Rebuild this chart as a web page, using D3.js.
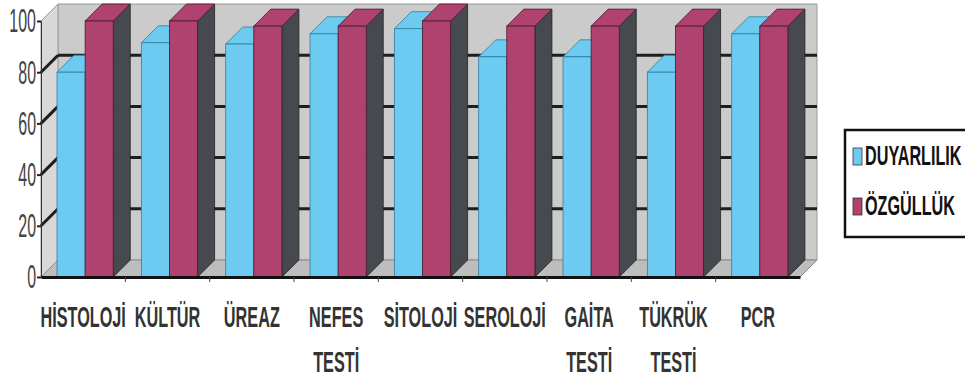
<!DOCTYPE html>
<html>
<head>
<meta charset="utf-8">
<script src="https://d3js.org/d3.v7.min.js"></script>
<style>
body { margin: 0; background: #fff; }
svg { display: block; }
text { font-family: 'Liberation Sans', Arial, sans-serif; }
</style>
</head>
<body>
<svg id="chart" width="965" height="383"></svg>
<script>
// chart data
var categories = ["HİSTOLOJİ", "KÜLTÜR", "ÜREAZ", "NEFES\nTESTİ", "SİTOLOJİ", "SEROLOJİ", "GAİTA\nTESTİ", "TÜKRÜK\nTESTİ", "PCR"];
var duyarlilik = [80, 91.5, 91, 95, 97, 86, 86, 80, 95];
var ozgulluk = [100, 100, 98, 98, 100, 98, 98, 98, 98];
var seriesNames = ["DUYARLILIK", "ÖZGÜLLÜK"];
var yTicks = [0, 20, 40, 60, 80, 100];

var svg = d3.select("#chart");

// front plane of the 3d box, and the depth offset
// (don't call it "top", that's window.top)
var plotLeft = 41, plotRight = 800, plotBottom = 277, plotTop = 21;
var depth = 17;

var x = d3.scaleBand().domain(categories).range([plotLeft, plotRight]);
var y = d3.scaleLinear().domain([0, 100]).range([plotBottom, plotTop]);

var colors = ["#6dcbf2", "#b0426f"];
var strokes = ["#2f7f9f", "#4a1a30"];
var sideColor = "#46494d";

function pts(arr) { return arr.map(function (p) { return p.join(","); }).join(" "); }

// back wall, side wall, floor
svg.append("polygon")
  .attr("points", pts([[plotLeft + depth, y(100) - depth], [plotRight + depth, y(100) - depth], [plotRight + depth, plotBottom - depth], [plotLeft + depth, plotBottom - depth]]))
  .attr("fill", "#cbcbcb").attr("stroke", "#999").attr("stroke-width", 1);
svg.append("polygon")
  .attr("points", pts([[plotLeft, plotBottom], [plotLeft, y(100)], [plotLeft + depth, y(100) - depth], [plotLeft + depth, plotBottom - depth]]))
  .attr("fill", "#d8d8d8").attr("stroke", "#999").attr("stroke-width", 1);
svg.append("polygon")
  .attr("points", pts([[plotLeft, plotBottom], [plotLeft + depth, plotBottom - depth], [plotRight + depth, plotBottom - depth], [plotRight, plotBottom]]))
  .attr("fill", "#bdbdbd").attr("stroke", "#8a8a8a").attr("stroke-width", 1);

// gridlines on the walls
var grid = yTicks.filter(function (d) { return d > 0 && d < 100; });
svg.selectAll(".gridBack").data(grid).enter().append("line")
  .attr("x1", plotLeft + depth).attr("x2", plotRight + depth)
  .attr("y1", function (d) { return y(d) - depth; })
  .attr("y2", function (d) { return y(d) - depth; })
  .attr("stroke", "#1e1e1e").attr("stroke-width", 3);
svg.selectAll(".gridSide").data(grid).enter().append("line")
  .attr("x1", plotLeft).attr("x2", plotLeft + depth)
  .attr("y1", function (d) { return y(d); })
  .attr("y2", function (d) { return y(d) - depth; })
  .attr("stroke", "#1e1e1e").attr("stroke-width", 3);

// bars: front, top and right side faces
var bw = x.bandwidth() / 3;
var offset = x.bandwidth() * 0.19;
var bars = [];
categories.forEach(function (c, i) {
  bars.push({ c: c, s: 0, v: duyarlilik[i] });
  bars.push({ c: c, s: 1, v: ozgulluk[i] });
});

bars.forEach(function (b) {
  var x0 = x(b.c) + offset + b.s * bw, x1 = x0 + bw;
  var yt = y(b.v);
  var g = svg.append("g");
  g.append("polygon")
    .attr("points", pts([[x1, plotBottom], [x1, yt], [x1 + depth, yt - depth], [x1 + depth, plotBottom - depth]]))
    .attr("fill", sideColor).attr("stroke", "#222").attr("stroke-width", 0.8);
  g.append("polygon")
    .attr("points", pts([[x0, yt], [x0 + depth, yt - depth], [x1 + depth, yt - depth], [x1, yt]]))
    .attr("fill", colors[b.s]).attr("stroke", strokes[b.s]).attr("stroke-width", 0.8);
  g.append("rect")
    .attr("x", x0).attr("y", yt).attr("width", bw).attr("height", plotBottom - yt)
    .attr("fill", colors[b.s]).attr("stroke", strokes[b.s]).attr("stroke-width", 0.8);
});

// y axis
var sy = 0.47;
var yAxis = svg.append("g")
  .attr("transform", "translate(" + plotLeft + ",0)")
  .call(d3.axisLeft(y).tickValues(yTicks).tickSize(4).tickPadding(1));
yAxis.select(".domain").attr("stroke", "#333");
yAxis.selectAll(".tick line").attr("stroke", "#222").attr("stroke-width", 2);
yAxis.selectAll("text")
  .attr("font-size", 34).attr("fill", "#444").attr("font-family", "'Liberation Sans', Arial, sans-serif")
  .attr("x", -5 / sy).attr("transform", "scale(" + sy + ",1)");

// x axis baseline with ticks between categories
var xAxis = svg.append("g")
  .attr("transform", "translate(0," + plotBottom + ")")
  .call(d3.axisBottom(x).tickSize(0).tickFormat(""));
xAxis.select(".domain").attr("stroke", "#111").attr("stroke-width", 3);
xAxis.selectAll(".sep").data(categories.slice(1)).enter().append("line")
  .attr("x1", function (d) { return x(d); }).attr("x2", function (d) { return x(d); })
  .attr("y1", 0).attr("y2", 5).attr("stroke", "#444").attr("stroke-width", 1);

// category labels, bold and condensed
var sx = 0.56;
var labels = svg.selectAll(".cat").data(categories).enter().append("g")
  .attr("transform", function (d) { return "translate(" + (x(d) + x.bandwidth() / 2) + ",327) scale(" + sx + ",1)"; });
labels.each(function (d) {
  var lines = d.split("\n");
  var t = d3.select(this).append("text")
    .attr("text-anchor", "middle").attr("font-size", 29).attr("font-weight", "bold").attr("fill", "#333");
  lines.forEach(function (l, i) {
    t.append("tspan").attr("x", 0).attr("y", i * 45).text(l);
  });
});

// legend
var legend = svg.append("g").attr("transform", "translate(845,130)");
legend.append("rect").attr("x", 0).attr("y", 0).attr("width", 130).attr("height", 107)
  .attr("fill", "#fff").attr("stroke", "#111").attr("stroke-width", 2.5);
seriesNames.forEach(function (n, i) {
  var ly = 18 + i * 50;
  legend.append("rect").attr("x", 8).attr("y", ly).attr("width", 9).attr("height", 17)
    .attr("fill", colors[i]).attr("stroke", "#333").attr("stroke-width", 0.8);
  legend.append("text")
    .attr("transform", "translate(20," + (ly + 17) + ") scale(0.6,1)")
    .attr("font-size", 27).attr("font-weight", "bold").attr("fill", "#111")
    .text(n);
});
</script>
</body>
</html>
